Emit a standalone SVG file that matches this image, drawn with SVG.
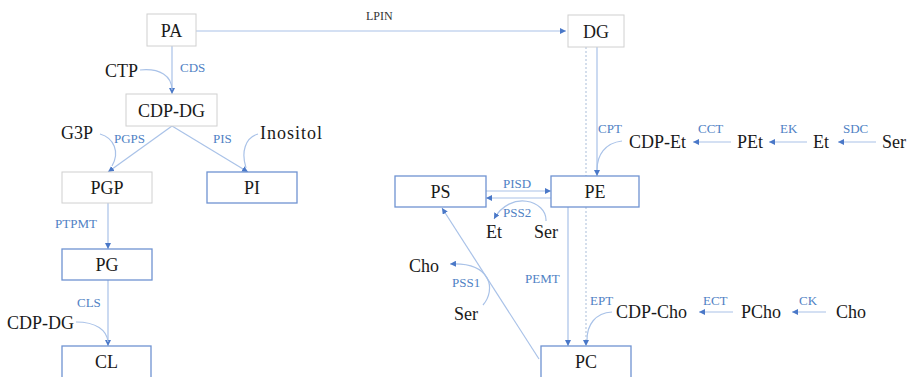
<svg xmlns="http://www.w3.org/2000/svg" width="910" height="377" viewBox="0 0 910 377">
<style>
.gb{fill:#fff;stroke:#d0d0d0;stroke-width:1}
.bb{fill:#fff;stroke:#6f93d2;stroke-width:1.3}
text{font-family:'Liberation Serif','Times New Roman','DejaVu Serif',serif}
.nt{font-size:18px;fill:#1a1a1a;text-anchor:middle}
.mt{font-size:18px;fill:#1a1a1a}
.lb{font-size:13px;fill:#4f81c4}
.ln{fill:none;stroke:#a9c2e8;stroke-width:1.2}
.dt{fill:none;stroke:#b8c8e0;stroke-width:1.2;stroke-dasharray:2,2}
.ar{marker-end:url(#ah)}
</style>
<defs>
<marker id="ah" viewBox="0 0 10 10" refX="10" refY="5" markerWidth="6" markerHeight="6" markerUnits="userSpaceOnUse" orient="auto">
<path d="M0,0 L10,5 L0,10 z" fill="#4a78c8"/>
</marker>
</defs>
<rect width="910" height="377" fill="#fff"/>
<g id="connectors">
<path class="ln ar" d="M196,31 H566"/>
<path class="ln ar" d="M172,46 V94"/>
<path class="ln" d="M140,70 C160,68 172,76 172,90"/>
<path class="ln ar" d="M172,126 L108,172"/>
<path class="ln ar" d="M172,126 L248,172"/>
<path class="ln" d="M100,134 C114,138 120,152 112,166"/>
<path class="ln" d="M258,134 C245,138 241,152 246,168"/>
<path class="ln ar" d="M108,203 V249"/>
<path class="ln ar" d="M108,280 V346"/>
<path class="ln" d="M76,322 C96,322 107,330 108,342"/>
<path class="dt ar" d="M586,47 V346"/>
<path class="ln ar" d="M597,47 V176"/>
<path class="ln" d="M622,141 C605,143 597,155 597,170"/>
<path class="ln ar" d="M731,142 H693"/>
<path class="ln ar" d="M807,142 H769"/>
<path class="ln ar" d="M876,142 H838"/>
<path class="ln ar" d="M486,191 H551"/>
<path class="ln ar" d="M551,198 H486"/>
<path class="ln ar" d="M546,221 C547,200 510,190 494,219"/>
<path class="ln ar" d="M568,207 V346"/>
<path class="ln" d="M612,312 C595,313 587,325 587,340"/>
<path class="ln ar" d="M733,312 H699"/>
<path class="ln ar" d="M826,312 H792"/>
<path class="ln ar" d="M539,359 L442,208"/>
<path class="ln ar" d="M483,305 C496,290 492,262 450,264"/>
</g>
<g id="PA"><rect class="gb" x="147" y="14" width="49" height="32"/><text class="nt" x="171.5" y="37">PA</text></g>
<g id="DG"><rect class="gb" x="568" y="15" width="56" height="32"/><text class="nt" x="596" y="38">DG</text></g>
<g id="CDP-DG"><rect class="gb" x="126" y="94" width="91" height="32"/><text class="nt" x="171.5" y="117">CDP-DG</text></g>
<g id="PGP"><rect class="gb" x="62" y="172" width="90" height="31"/><text class="nt" x="107" y="194">PGP</text></g>
<g id="PI"><rect class="bb" x="207" y="172" width="90" height="31"/><text class="nt" x="252" y="194">PI</text></g>
<g id="PG"><rect class="bb" x="62" y="249" width="90" height="31"/><text class="nt" x="107" y="271">PG</text></g>
<g id="CL"><rect class="bb" x="62" y="346" width="89" height="34"/><text class="nt" x="106.5" y="368">CL</text></g>
<g id="PS"><rect class="bb" x="395" y="176" width="91" height="31"/><text class="nt" x="440.5" y="198">PS</text></g>
<g id="PE"><rect class="bb" x="551" y="176" width="88" height="31"/><text class="nt" x="595" y="198">PE</text></g>
<g id="PC"><rect class="bb" x="541" y="346" width="90" height="34"/><text class="nt" x="586" y="368">PC</text></g>
<g id="CTP"><text class="mt" x="105" y="77">CTP</text></g>
<g id="G3P"><text class="mt" x="61" y="139">G3P</text></g>
<g id="Inositol"><text class="mt" x="260" y="139" textLength="62" lengthAdjust="spacing">Inositol</text></g>
<g id="CDP-DG-2"><text class="mt" x="7" y="329">CDP-DG</text></g>
<g id="CDP-Et"><text class="mt" x="629" y="148">CDP-Et</text></g>
<g id="PEt"><text class="mt" x="737" y="148">PEt</text></g>
<g id="Et-1"><text class="mt" x="813" y="148">Et</text></g>
<g id="Ser-1"><text class="mt" x="882" y="148">Ser</text></g>
<g id="Et-2"><text class="mt" x="486" y="238">Et</text></g>
<g id="Ser-2"><text class="mt" x="534" y="238">Ser</text></g>
<g id="Cho-1"><text class="mt" x="409" y="272">Cho</text></g>
<g id="Ser-3"><text class="mt" x="454" y="320">Ser</text></g>
<g id="CDP-Cho"><text class="mt" x="616" y="318">CDP-Cho</text></g>
<g id="PCho"><text class="mt" x="741" y="318">PCho</text></g>
<g id="Cho-2"><text class="mt" x="836" y="318">Cho</text></g>
<g id="labels">
<text x="366" y="20" style="font-size:12px;fill:#333">LPIN</text>
<text class="lb" x="180" y="72">CDS</text>
<text class="lb" x="114" y="143">PGPS</text>
<text class="lb" x="213" y="143">PIS</text>
<text class="lb" x="55" y="228">PTPMT</text>
<text class="lb" x="77" y="307">CLS</text>
<text class="lb" x="598" y="133">CPT</text>
<text class="lb" x="698" y="133">CCT</text>
<text class="lb" x="780" y="133">EK</text>
<text class="lb" x="843" y="133">SDC</text>
<text class="lb" x="503" y="188">PISD</text>
<text class="lb" x="503" y="217">PSS2</text>
<text class="lb" x="452" y="287">PSS1</text>
<text class="lb" x="525" y="283">PEMT</text>
<text class="lb" x="590" y="305">EPT</text>
<text class="lb" x="703" y="305">ECT</text>
<text class="lb" x="799" y="305">CK</text>
</g>
</svg>
